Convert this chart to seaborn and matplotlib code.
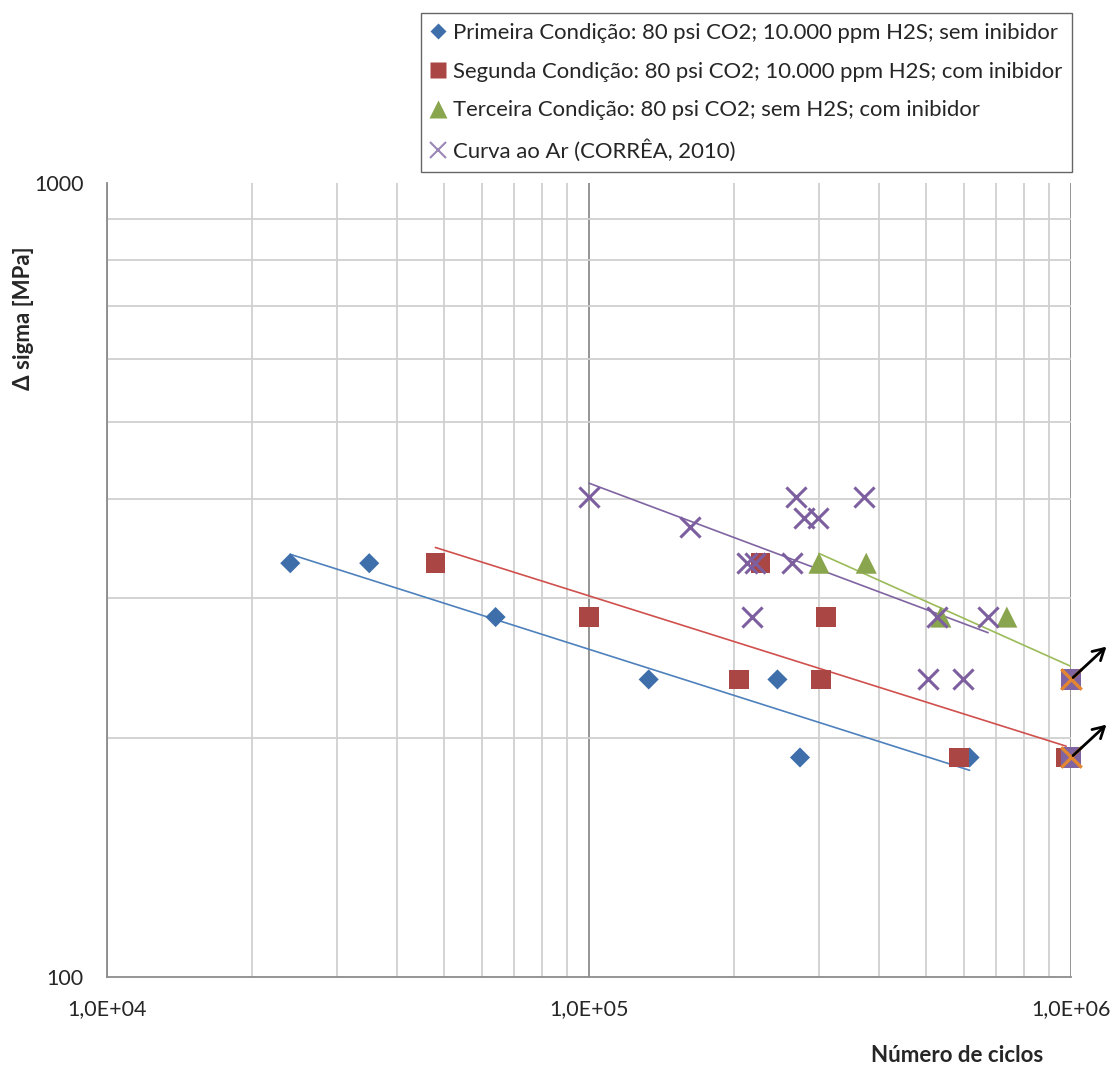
import numpy as np
import pandas as pd
import matplotlib
matplotlib.use("Agg")
import matplotlib.pyplot as plt
import seaborn as sns
from matplotlib.lines import Line2D
from matplotlib.ticker import FixedLocator, NullFormatter

# Dados (ciclos, delta sigma em MPa)
primeira_ciclos = [24000, 35000, 64000, 133000, 246000, 274000, 616000]
primeira_sigma = [332, 332, 284, 237, 237, 189, 189]

segunda_ciclos = [48000, 100000, 205000, 227000, 310000, 303000, 586000, 977000]
segunda_sigma = [332, 284, 237, 332, 284, 237, 189, 189]

terceira_ciclos = [300000, 376000, 537000, 736000, 1000000]
terceira_sigma = [332, 332, 284, 284, 237]

ar_ciclos = [100000, 162000, 213000, 221000, 218000, 264000, 269000, 279000,
             299000, 372000, 527000, 505000, 597000, 673000]
ar_sigma = [402, 369, 332, 332, 284, 332, 402, 378, 378, 402, 284, 237, 237, 284]

# corpos de prova sem falha (run-out)
runout_ciclos = [1000000, 1000000]
runout_sigma = [237, 189]

labels = [
    "Primeira Condição: 80 psi CO2; 10.000 ppm H2S; sem inibidor",
    "Segunda Condição: 80 psi CO2; 10.000 ppm H2S; com inibidor",
    "Terceira Condição: 80 psi CO2; sem H2S; com inibidor",
    "Curva ao Ar (CORRÊA, 2010)",
]
x_ticks = [1e4, 1e5, 1e6]
x_ticklabels = ["1,0E+04", "1,0E+05", "1,0E+06"]
y_ticks = [100, 1000]
y_ticklabels = ["100", "1000"]

series = [
    (primeira_ciclos, primeira_sigma, "#3F6FAA", "#4F81BD", "D", 105, 0),
    (segunda_ciclos, segunda_sigma, "#AA4643", "#D0504D", "s", 200, 0),
    (terceira_ciclos, terceira_sigma, "#89A54E", "#9BBB59", "^", 230, 0),
    (ar_ciclos, ar_sigma, "#7D5FA0", "#8064A2", "x", 210, 2.2),
]

sns.set_style("white")
plt.rcParams["font.family"] = ["Lato", "DejaVu Sans"]

fig = plt.figure(figsize=(11.14, 10.68), dpi=100)
ax = fig.add_axes([107 / 1114, 1 - 977 / 1068, 964 / 1114, 794 / 1068])
ax.set_xscale("log")
ax.set_yscale("log")
ax.set_xlim(1e4, 1e6)
ax.set_ylim(100, 1000)

# grade
ax.xaxis.set_minor_locator(FixedLocator([m * 10 ** e for e in (4, 5) for m in range(2, 10)]))
ax.yaxis.set_minor_locator(FixedLocator([m * 100 for m in range(2, 10)]))
ax.xaxis.set_minor_formatter(NullFormatter())
ax.yaxis.set_minor_formatter(NullFormatter())
ax.grid(which="minor", color="#D0D0D0", lw=1.3)
ax.grid(which="major", axis="x", color="#8C8C8C", lw=1.3)
ax.set_axisbelow(True)
for s in ["top", "right"]:
    ax.spines[s].set_visible(False)
for s in ["left", "bottom"]:
    ax.spines[s].set_color("#8C8C8C")
    ax.spines[s].set_linewidth(1.3)

ax.set_xticks(x_ticks)
ax.set_xticklabels(x_ticklabels)
ax.set_yticks(y_ticks)
ax.set_yticklabels(y_ticklabels)
ax.tick_params(axis="both", which="major", labelsize=15.5, colors="#8C8C8C",
               labelcolor="#262626", length=6, width=1.3)
ax.tick_params(axis="x", which="major", pad=10)
ax.tick_params(axis="y", which="major", pad=11)
ax.tick_params(axis="x", which="minor", length=5, width=1.3, colors="#8C8C8C")
ax.tick_params(axis="y", which="minor", length=0)

# linhas de tendencia (potencia) e pontos
for (cx, sy, mcolor, lcolor, marker, size, lw), lab in zip(series, labels):
    lx, ly = np.log10(cx), np.log10(sy)
    b, a = np.polyfit(lx, ly, 1)
    xs = np.array([min(cx), max(cx)])
    ax.plot(xs, 10 ** (a + b * np.log10(xs)), color=lcolor, lw=1.2, zorder=2)

for (cx, sy, mcolor, lcolor, marker, size, lw), lab in zip(series, labels):
    df = pd.DataFrame({"ciclos": cx, "sigma": sy})
    if marker == "x":
        sns.scatterplot(data=df, x="ciclos", y="sigma", ax=ax, marker=marker, s=size,
                        color=mcolor, linewidth=lw, zorder=3, label=lab, clip_on=False)
    else:
        sns.scatterplot(data=df, x="ciclos", y="sigma", ax=ax, marker=marker, s=size,
                        color=mcolor, edgecolor="none", zorder=3, label=lab, clip_on=False)

run = pd.DataFrame({"ciclos": runout_ciclos, "sigma": runout_sigma})
sns.scatterplot(data=run, x="ciclos", y="sigma", ax=ax, marker="s", s=215,
                color="#8064A2", edgecolor="none", zorder=4, legend=False, clip_on=False)
sns.scatterplot(data=run, x="ciclos", y="sigma", ax=ax, marker="x", s=215,
                color="#E3862F", linewidth=2.4, zorder=5, legend=False, clip_on=False)
for cx, sy in zip(runout_ciclos, runout_sigma):
    ax.annotate("", xy=(cx, sy), xytext=(27, 25), textcoords="offset points",
                arrowprops=dict(arrowstyle="<-,head_length=0.8,head_width=0.45",
                                color="black", lw=2), annotation_clip=False, zorder=6)

ax.set_xlabel("")
ax.set_ylabel("")
leg = ax.get_legend()
if leg is not None:
    leg.remove()

handles = [
    Line2D([], [], ls="none", marker="D", ms=8, mfc="#3F6FAA", mec="none"),
    Line2D([], [], ls="none", marker="s", ms=12, mfc="#AA4643", mec="none"),
    Line2D([], [], ls="none", marker="^", ms=13, mfc="#89A54E", mec="none"),
    Line2D([], [], ls="none", marker="x", ms=12, mec="#9A87B5", mew=1.5),
]
fig.legend(handles, labels, loc="upper right", bbox_to_anchor=(1072 / 1114, 1 - 13 / 1068),
           fontsize=15.9, frameon=True, fancybox=False, edgecolor="#404040",
           handlelength=0.7, handletextpad=0.3, labelspacing=0.85, borderpad=0.45,
           borderaxespad=0)

fig.text(23 / 1114, 1 - 318 / 1068, "Δ sigma [MPa]", rotation=90, ha="center", va="center",
         fontsize=16, fontweight="bold", color="#262626")
fig.text(957 / 1114, 1 - 1055 / 1068, "Número de ciclos", ha="center", va="center",
         fontsize=16, fontweight="bold", color="#262626")

fig.savefig("out.png", dpi=100, facecolor="white")
